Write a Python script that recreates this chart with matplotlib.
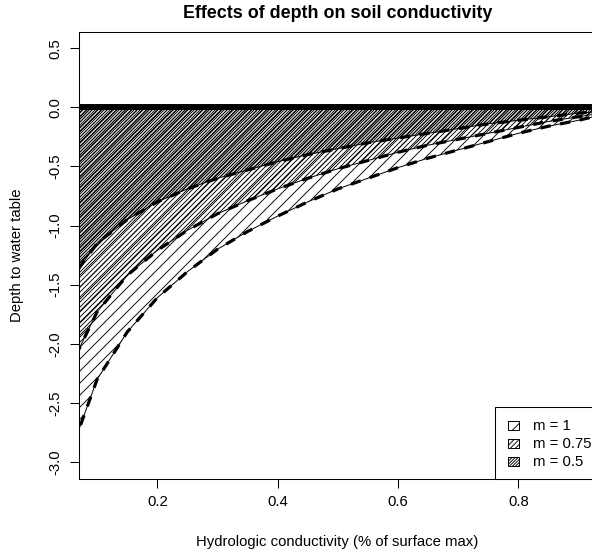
import matplotlib

matplotlib.use("Agg")
import matplotlib.pyplot as plt
from matplotlib.collections import LineCollection
from matplotlib.patches import Polygon, Rectangle
from matplotlib.transforms import IdentityTransform

plt.rcParams["font.family"] = ["Liberation Sans", "DejaVu Sans"]
plt.rcParams["axes.unicode_minus"] = False

# hydrologic conductivity (fraction of surface max) and depth to water table
conductivity = [0.05, 0.10, 0.15, 0.20, 0.25, 0.30, 0.35, 0.40, 0.45, 0.50,
                0.55, 0.60, 0.65, 0.70, 0.75, 0.80, 0.85, 0.90, 0.95, 1.00]
depth_m1 = [-3.00, -2.30, -1.90, -1.61, -1.39, -1.20, -1.05, -0.92, -0.80, -0.69,
            -0.60, -0.51, -0.43, -0.36, -0.29, -0.22, -0.16, -0.11, -0.05, 0.00]
depth_m075 = [-2.25, -1.73, -1.42, -1.21, -1.04, -0.90, -0.79, -0.69, -0.60, -0.52,
              -0.45, -0.38, -0.32, -0.27, -0.22, -0.17, -0.12, -0.08, -0.04, 0.00]
depth_m05 = [-1.50, -1.15, -0.95, -0.80, -0.69, -0.60, -0.53, -0.46, -0.40, -0.35,
             -0.30, -0.26, -0.22, -0.18, -0.14, -0.11, -0.08, -0.05, -0.03, 0.00]
labels = ["m = 1", "m = 0.75", "m = 0.5"]
series = [depth_m1, depth_m075, depth_m05]
spacing = [12.0, 5.0, 3.0]  # horizontal gap between hatch lines, px

W, H = 592, 555
BASE = 10.7
fig = plt.figure(figsize=(W / 100, H / 100), dpi=100)


def px(x, y):
    # pixel position measured from the top-left corner -> display coords
    return x, H - y


def hatch_segments(step, offset=0.0):
    segs = []
    c = -W + offset
    while c < H + W:
        segs.append([(0, c), (W, W + c)])
        c += step
    return segs


def make_hatch(clip_patch, step, clip_box=None, offset=0.0):
    lc = LineCollection(hatch_segments(step, offset), colors="black", linewidths=0.65,
                        transform=IdentityTransform())
    lc.set_clip_path(clip_patch)
    if clip_box is not None:
        lc.set_clip_box(clip_box)
    return lc


left, right, top, bottom = 78.7, 596.5, 31.7, 479.0
ax = fig.add_axes([left / W, (H - bottom) / H, (right - left) / W, (bottom - top) / H])
ax.set_xlim(0.0694, 0.93)
ax.set_ylim(-3.142, 0.639)

for depth, step in zip(series, spacing):
    verts = list(zip(conductivity, depth)) + [(conductivity[-1], 0.0), (conductivity[0], 0.0)]
    poly = Polygon(verts, closed=True, fill=False, edgecolor="black", linewidth=0.7,
                   transform=ax.transData, zorder=2)
    ax.add_patch(poly)
    ax.add_collection(make_hatch(poly, step, ax.bbox), autolim=False)

for depth in series:
    ax.plot(conductivity, depth, color="black", linewidth=2.3,
            linestyle=(0, (3.2, 3.0)), zorder=4)

ax.axhline(0.0, color="black", linewidth=4.3, zorder=5)

ax.set_xticks([0.2, 0.4, 0.6, 0.8])
ax.set_xticklabels(["0.2", "0.4", "0.6", "0.8"])
yt = [0.5, 0.0, -0.5, -1.0, -1.5, -2.0, -2.5, -3.0]
ax.set_yticks(yt)
ax.set_yticklabels([f"{v:.1f}" for v in yt], rotation=90, va="center")
ax.tick_params(direction="out", length=6.5, width=0.75, labelsize=BASE, pad=5)
for s in ax.spines.values():
    s.set_linewidth(0.75)

fig.text(337.8 / W, 1 - 14 / H, "Effects of depth on soil conductivity",
         ha="center", va="center", fontsize=12.9, fontweight="bold")
fig.text(337.6 / W, 1 - 542 / H, "Hydrologic conductivity (% of surface max)",
         ha="center", va="center", fontsize=BASE)
fig.text(17.5 / W, 1 - 255 / H, "Depth to water table", rotation=90,
         ha="center", va="center", fontsize=BASE)

# legend box in the lower right corner of the plot region
lx, ly = px(495, 479)
box = Rectangle((lx, ly), right - 495, 479 - 407.3, transform=IdentityTransform(),
                facecolor="white", edgecolor="black", linewidth=0.75, zorder=10)
fig.add_artist(box)
for i, (label, step) in enumerate(zip(labels, spacing)):
    cy = 425.7 + i * 18.0
    kx, ky = px(508.3, cy + 4.6)
    key = Rectangle((kx, ky), 10.7, 9.2, transform=IdentityTransform(),
                    facecolor="none", edgecolor="black", linewidth=0.7, zorder=12)
    fig.add_artist(key)
    lc = make_hatch(key, step, offset=(ky - kx) % step)
    lc.set_zorder(11)
    fig.add_artist(lc)
    tx, ty = px(532.7, cy)
    fig.text(tx / W, ty / H, label, ha="left", va="center", fontsize=BASE, zorder=12)

fig.savefig("out.png", dpi=100)
